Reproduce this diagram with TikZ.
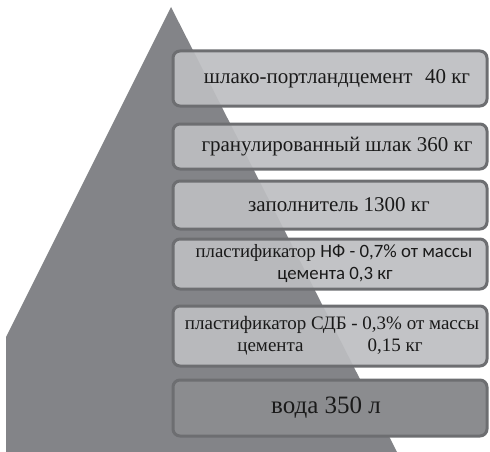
\documentclass[tikz,border=0pt]{standalone}
\usepackage{fontspec}
\setmainfont{Liberation Serif}
\newfontfamily\calibri{Carlito}
\usetikzlibrary{positioning}
\definecolor{pyrgray}{HTML}{838488}
\definecolor{edgegray}{HTML}{6D6E71}
\definecolor{boxgray}{HTML}{BDBEC1}
\definecolor{darkbox}{HTML}{8B8C8F}
\definecolor{inkgray}{HTML}{1A1A1A}
\tikzstyle{layer}=[draw=edgegray, line width=3pt, rounded corners=7pt, fill=boxgray, fill opacity=0.92, text opacity=1, text=inkgray, minimum width=314pt, align=center, inner sep=1pt]
\tikzstyle{bigtext}=[font=\fontsize{21}{22}\selectfont]
\tikzstyle{smalltext}=[font=\fontsize{19}{22}\selectfont]

\begin{document}
\begin{tikzpicture}[x=1pt, y=-1pt]
  \def\xmin{0}
  \def\xmax{490}
  \def\ymin{0}
  \def\ymax{452}
  \useasboundingbox (\xmin,\ymin) rectangle (\xmax,\ymax);

  % pyramid
  \fill[pyrgray] (171,7) -- (6,337) -- (6,\ymax) -- (397,\ymax) -- cycle;

  % layers
  \node[layer, bigtext, minimum height=55pt] (cement) at (330,78.5) {\hspace{14pt}шлако-портландцемент\hspace{0.6em}40 кг};
  \node[layer, bigtext, minimum height=45pt] (slag) at (330,146.5) {\hspace{14pt}гранулированный шлак 360 кг};
  \node[layer, bigtext, minimum height=48pt] (filler) at (330,205) {\hspace{18pt}заполнитель 1300 кг};
  \node[layer, font=\fontsize{18.8}{22}\selectfont, minimum height=50pt] (plastnf) at (330,264) {\hspace{8pt}пластификатор {\calibri НФ - 0,7\% от массы}\\ {\calibri\hspace{10pt}цемента 0,3 кг}};
  \node[layer, smalltext, minimum height=60pt] (plastsdb) at (330,336) {\hspace{4pt}пластификатор СДБ - 0,3\% от массы\\ цемента\hspace{64pt}0,15 кг};
  \node[layer, font=\fontsize{25}{26}\selectfont, fill=darkbox, fill opacity=1, minimum height=56pt] (water) at (330,408) {\hspace{-8pt}вода 350 л};
\end{tikzpicture}
\end{document}
